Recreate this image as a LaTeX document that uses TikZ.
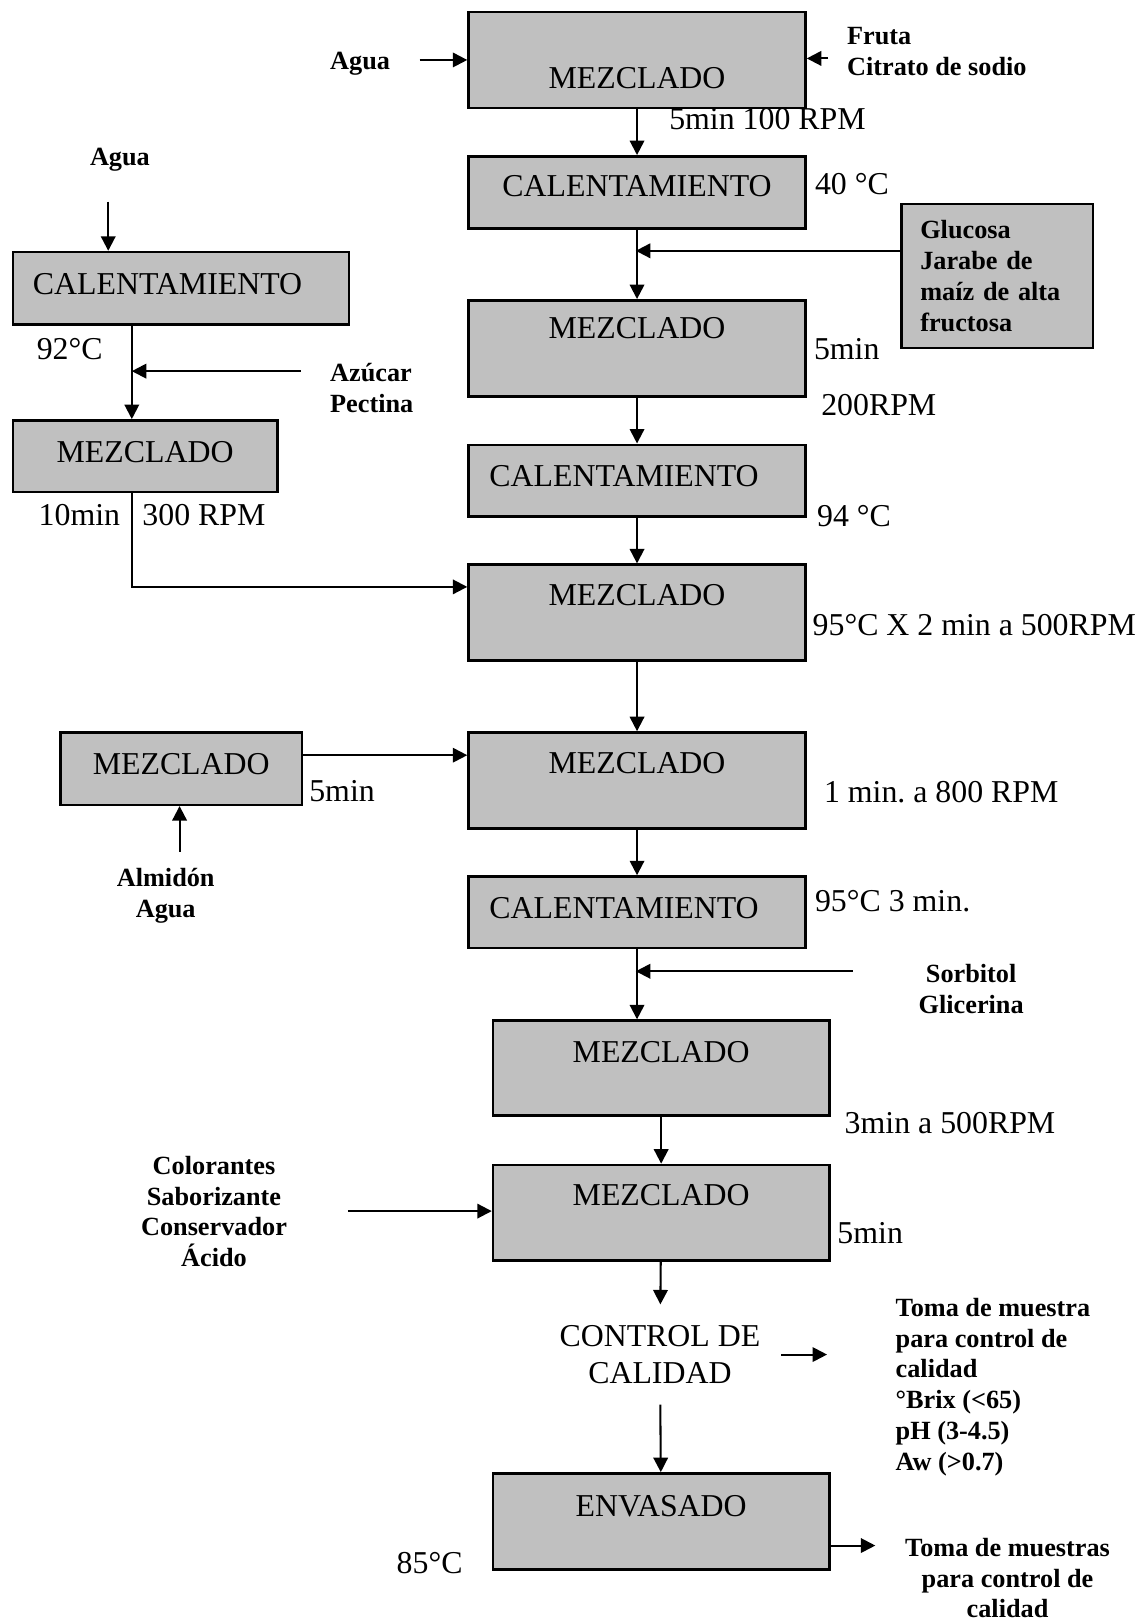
\documentclass[tikz,border=0pt]{standalone}
\usepackage{fontspec}
\setmainfont{Liberation Serif}
\usepackage{tikz}
\usetikzlibrary{arrows.meta}
\definecolor{boxgray}{RGB}{192,192,192}
\frenchspacing
\tikzset{
  proc/.style={draw, fill=boxgray, line width=1.2pt, inner sep=0pt, anchor=north west,
    font=\fontsize{15.4}{17.75}\selectfont},
  flow/.style={line width=1pt, -{Triangle[length=7pt,width=7pt]}},
  feed/.style={font=\fontsize{12.7}{14.9}\selectfont\bfseries, inner sep=0pt},
  cond/.style={font=\fontsize{15.4}{17.75}\selectfont, inner sep=0pt, anchor=base west},
}
\begin{document}
\begin{tikzpicture}[x=0.5pt, y=-0.5pt]
  \useasboundingbox (0,0) rectangle (1105,1568);

  % main line
  \node[proc, minimum width=163pt, text height=36.95pt, text depth=9.35pt] (b1) at (452,10.6) {MEZCLADO};
  \node[proc, minimum width=163pt, text height=19.35pt, text depth=15.5pt] (b2) at (452,150) {CALENTAMIENTO};
  \node[proc, minimum width=163pt, text height=18.55pt, text depth=27.9pt] (b3) at (452,289.3) {MEZCLADO};
  \node[proc, minimum width=163pt, text height=20.15pt, text depth=14.5pt] (b4) at (452,429) {CALENTAMIENTO\hspace*{12.5pt}};
  \node[proc, minimum width=163pt, text height=19.9pt, text depth=26.4pt] (b5) at (452,545) {MEZCLADO};
  \node[proc, minimum width=163pt, text height=20pt, text depth=26.35pt] (b6) at (452,707.3) {MEZCLADO};
  \node[proc, minimum width=163pt, text height=20.2pt, text depth=14.5pt] (b7) at (452,846.6) {CALENTAMIENTO\hspace*{12.5pt}};
  \node[proc, minimum width=162.65pt, text height=20.3pt, text depth=25.7pt] (b8) at (475.7,986) {MEZCLADO};
  \node[proc, minimum width=162.65pt, text height=19.85pt, text depth=26.35pt] (b9) at (475.7,1125.6) {MEZCLADO};
  \node[font=\fontsize{15.4}{17.75}\selectfont, align=center, inner sep=10pt] (ctrl) at (638.35,1310.25) {CONTROL DE\\CALIDAD};
  \node[proc, minimum width=162.65pt, text height=20.65pt, text depth=25.85pt] (env) at (475.7,1424) {ENVASADO};

  % left branches
  \node[proc, minimum width=162.6pt, text height=20.6pt, text depth=14.55pt] (l1) at (11.3,242.6) {CALENTAMIENTO\hspace*{13pt}};
  \node[proc, minimum width=127.85pt, text height=20.3pt, text depth=14.4pt] (l2) at (11.3,405.4) {MEZCLADO};
  \node[proc, minimum width=116.6pt, text height=20.15pt, text depth=14.85pt] (l3) at (57.5,707.3) {MEZCLADO};

  \node[proc, font=\fontsize{12.7}{14.9}\selectfont\bfseries, align=left, text width=74.5pt,
    inner xsep=9pt, minimum height=69.75pt] (gbox) at (871,196) {Glucosa\\Jarabe de\\maíz de alta\\fructosa};

  % ingredients
  \node[feed, anchor=base west] (agua) at (319,67.7) {Agua};
  \node[feed, anchor=north west, align=left] (fruta) at (819,26.3) {Fruta\\Citrato de sodio};
  \node[feed, anchor=base] (agua2) at (116,160.3) {Agua};
  \node[feed, anchor=north west, align=left] (azucar) at (319,350.9) {Azúcar\\Pectina};
  \node[feed, anchor=north, align=center] (almidon) at (160.3,839.5) {Almidón\\Agua};
  \node[feed, anchor=north, align=center] (sorbitol) at (939.4,932.5) {Sorbitol\\Glicerina};
  \node[feed, anchor=north, align=center] (color) at (207,1117.8) {Colorantes\\Saborizante\\Conservador\\Ácido};
  \node[feed, anchor=north west, align=left] (muestra) at (866,1255.2) {Toma de muestra\\para control de\\calidad\\°Brix (<65)\\pH (3-4.5)\\Aw (>0.7)};
  \node[feed, anchor=north, align=center] (muestras) at (974.6,1487.4) {Toma de muestras\\para control de\\calidad};

  % conditions
  \node[cond] (c1) at (647,125) {5min 100 RPM};
  \node[cond] (c2) at (788,188) {40 °C};
  \node[cond] (c3) at (787,348) {5min};
  \node[cond] (c4) at (794,401.6) {200RPM};
  \node[cond] (c5) at (790,509) {94 °C};
  \node[cond] (c6) at (785.7,614.7) {95°C X 2 min a 500RPM};
  \node[cond] (c7) at (796.7,776.7) {1 min. a 800 RPM};
  \node[cond] (c8) at (298.8,775.7) {5min};
  \node[cond] (c9) at (788,882) {95°C 3 min.};
  \node[cond] (c10) at (816.7,1096.6) {3min a 500RPM};
  \node[cond] (c11) at (809.7,1202.4) {5min};
  \node[cond] (c12) at (383.3,1522.4) {85°C};
  \node[cond] (c13) at (35.2,347.7) {92°C};
  \node[cond] (c14) at (37,508.6) {10min};
  \node[cond] (c15) at (137.4,508.6) {300 RPM};

  \coordinate (a0) at (406,58);
  \coordinate (f0) at (801,56.5);
  \coordinate (j1) at (615,242.6);
  \coordinate (w0) at (104.7,195);
  \coordinate (j2) at (127.5,359);
  \coordinate (z0) at (290.7,359);
  \coordinate (k1) at (127.5,567.7);
  \coordinate (k2) at (290.7,730.5);
  \coordinate (m0) at (173.7,824);
  \coordinate (s0) at (825,939.5);
  \coordinate (j3) at (615,939.5);
  \coordinate (c0) at (336.5,1171.5);
  \coordinate (q1) at (800,1310.25);
  \coordinate (q2) at (846.7,1495);

  \draw[flow] (b1) -- (b2);
  \draw[flow] (b2) -- (b3);
  \draw[flow] (b3) -- (b4);
  \draw[flow] (b4) -- (b5);
  \draw[flow] (b5) -- (b6);
  \draw[flow] (b6) -- (b7);
  \draw[flow] (b7.south) -- (b7.south |- b8.north);
  \draw[flow] (b8) -- (b9);
  \draw[flow] (b9) -- (ctrl);
  \draw[flow] (ctrl) -- (env);

  \draw[flow] (a0) -- (a0 -| b1.west);
  \draw[flow] (f0) -- (f0 -| b1.east);
  \draw[flow] (gbox.west |- j1) -- (j1);
  \draw[flow] (w0) -- (w0 |- l1.north);
  \draw[flow] (l1.south -| j2) -- (l2.north -| j2);
  \draw[flow] (z0) -- (j2);
  \draw[flow] (l2.south -| k1) -- (k1) -- (k1 -| b5.west);
  \draw[flow] (l3.east |- k2) -- (k2 -| b6.west);
  \draw[flow] (m0) -- (m0 |- l3.south);
  \draw[flow] (s0) -- (j3);
  \draw[flow] (c0) -- (c0 -| b9.west);
  \draw[flow] (ctrl.east) -- (ctrl.east -| q1);
  \draw[flow] (q2 -| env.east) -- (q2);
\end{tikzpicture}
\end{document}
